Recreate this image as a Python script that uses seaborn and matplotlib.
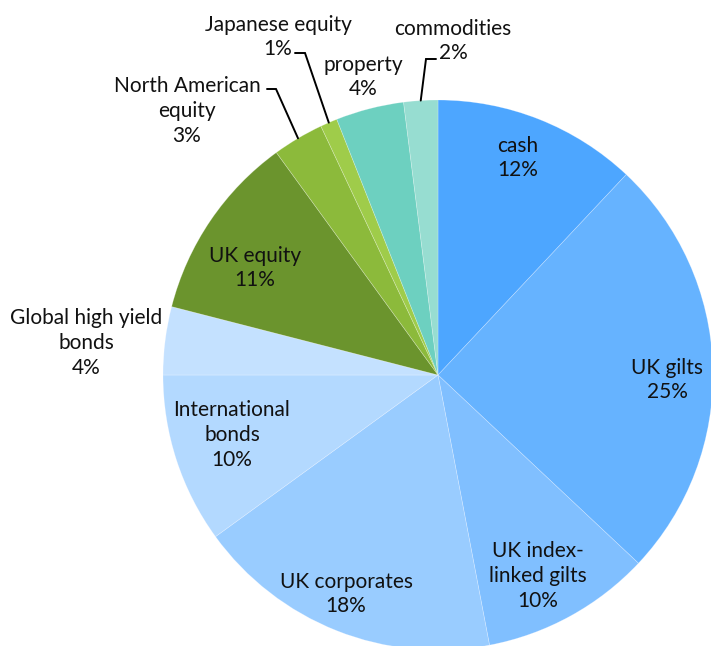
import matplotlib
matplotlib.use("Agg")
import matplotlib.pyplot as plt
import numpy as np
import seaborn as sns

sns.set_theme(style="white")
plt.rcParams["font.family"] = ["Lato", "DejaVu Sans"]

# asset allocation, clockwise from 12 o'clock
assets = ["cash", "UK gilts", "UK index-\nlinked gilts", "UK corporates",
          "International\nbonds", "Global high yield\nbonds", "UK equity",
          "North American\nequity", "Japanese equity", "property", "commodities"]
shares = [12, 25, 10, 18, 10, 4, 11, 3, 1, 4, 2]
colours = ["#4da6ff", "#66b3ff", "#80bfff", "#99ccff", "#b3d9ff", "#c4e1ff",
           "#6b942d", "#8cba3b", "#9fcc4a", "#6dd0c0", "#97ddd1"]

W, H = 711, 646
CX, CY, R = 438, H - 375, 275

# label centres in pixels (from top-left)
label_pos = [(518, 158), (667, 380), (538, 576), (346, 594), (232, 435),
             (86, 343), (255, 268), (187, 111), (278, 37), (363, 77), (453, 41)]
# leader lines: (label side end, elbow) in pixels
leaders = {7: ((267, 89), (276, 89)),
           8: ((295, 53), (305, 53)),
           10: ((436, 59), (426, 59))}

fig = plt.figure(figsize=(W / 100, H / 100), dpi=100)
ax = fig.add_axes([0, 0, 1, 1])
wedges, _ = ax.pie(shares, colors=colours, startangle=90, counterclock=False,
                   radius=R, center=(CX, CY),
                   wedgeprops=dict(linewidth=0.5, edgecolor=(1, 1, 1, 0.3)))
ax.set_xlim(0, W)
ax.set_ylim(0, H)
ax.set_aspect("equal")
ax.axis("off")

for i, (name, val) in enumerate(zip(assets, shares)):
    x, y = label_pos[i]
    ax.text(x, H - y, f"{name}\n{val}%", ha="center", va="center",
            fontsize=15, color="#111111", linespacing=1.3)
    if i in leaders:
        w = wedges[i]
        ang = np.deg2rad((w.theta1 + w.theta2) / 2)
        ex, ey = CX + R * np.cos(ang), CY + R * np.sin(ang)
        (lx, ly), (bx, by) = leaders[i]
        ax.plot([lx, bx, ex], [H - ly, H - by, ey], color="black", lw=1.4,
                solid_joinstyle="miter")

fig.savefig("out.png", dpi=100)
